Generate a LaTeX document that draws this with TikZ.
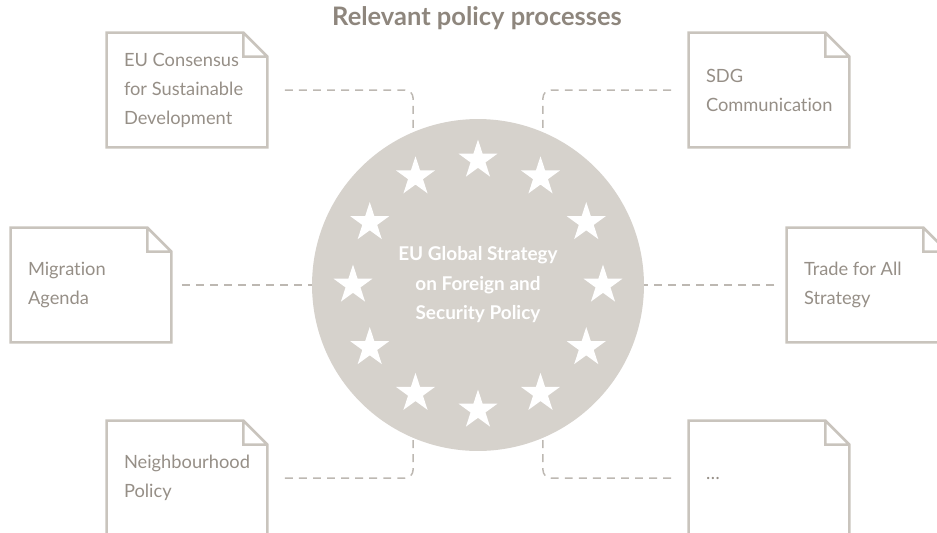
\documentclass[tikz,border=0pt]{standalone}
\usepackage{fontspec}
\setmainfont{Lato}[Ligatures=NoCommon]
\usetikzlibrary{shapes.geometric,calc}

\definecolor{titlebrown}{RGB}{142,134,125}
\definecolor{discfill}{RGB}{214,210,204}
\definecolor{docline}{RGB}{201,196,189}
\definecolor{doctext}{RGB}{150,143,135}
\definecolor{dashgray}{RGB}{189,184,178}

\begin{document}
\begin{tikzpicture}[x=0.02cm,y=-0.02cm,
    doc/.style={minimum width=3.2cm,minimum height=2.28cm,inner xsep=0.34cm,
      text width=2.52cm,align=flush left,text=doctext,font=\fontsize{10.4}{16.5}\selectfont},
    docedge/.style={draw=docline,line width=1.5pt},
    eudisc/.style={circle,fill=discfill,minimum size=6.64cm,inner sep=0pt,
      text=white,align=center,font=\bfseries\fontsize{10.8}{16.8}\selectfont},
    eustar/.style={star,star points=5,star point ratio=2.618,fill=white,
      inner sep=0pt,minimum size=0.82cm},
    dashlink/.style={draw=dashgray,line width=0.85pt,dash pattern=on 4.5pt off 3.5pt,
      rounded corners=4.5pt}]
  \useasboundingbox (0,0) rectangle (937,532);

  \node[text=titlebrown,font=\bfseries\fontsize{14.5}{16}\selectfont] (head) at (477,18) {Relevant policy processes};

  \node[eudisc] (eu) at (478,285) {EU Global Strategy\\on Foreign and\\Security Policy};
  \foreach \a in {0,30,...,330}
    \node[eustar] at ($(eu.center)+(\a:125)$) {};

  \node[doc] (cons)  at (187,90)  {EU Consensus\\for Sustainable\\Development};
  \node[doc] (sdg)   at (769,90)  {SDG\\Communication};
  \node[doc] (migr)  at (91,285)  {Migration\\Agenda};
  \node[doc] (trade) at (867,285) {Trade for All\\Strategy};
  \node[doc] (neigh) at (187,478) {Neighbourhood\\Policy};
  \node[doc] (more)  at (769,478) {\dots};

  \foreach \d in {cons,sdg,migr,trade,neigh,more}
    \draw[docedge] (\d.north west) -- ($(\d.north east)+(-24,0)$) -- ($(\d.north east)+(0,24)$)
      -- (\d.south east) -- (\d.south west) -- cycle
      ($(\d.north east)+(-24,0)$) |- ($(\d.north east)+(0,24)$);

  \foreach \from/\to in {cons/113,neigh/247}
    \draw[dashlink,shorten <=10pt] (\from.east) -| (eu.\to);
  \foreach \from/\to in {sdg/67,more/293}
    \draw[dashlink,shorten <=10pt] (\from.west) -| (eu.\to);
  \draw[dashlink,shorten <=6pt] (migr.east) -- (eu.west);
  \draw[dashlink,shorten <=7pt] (trade.west) -- (eu.east);
\end{tikzpicture}
\end{document}
